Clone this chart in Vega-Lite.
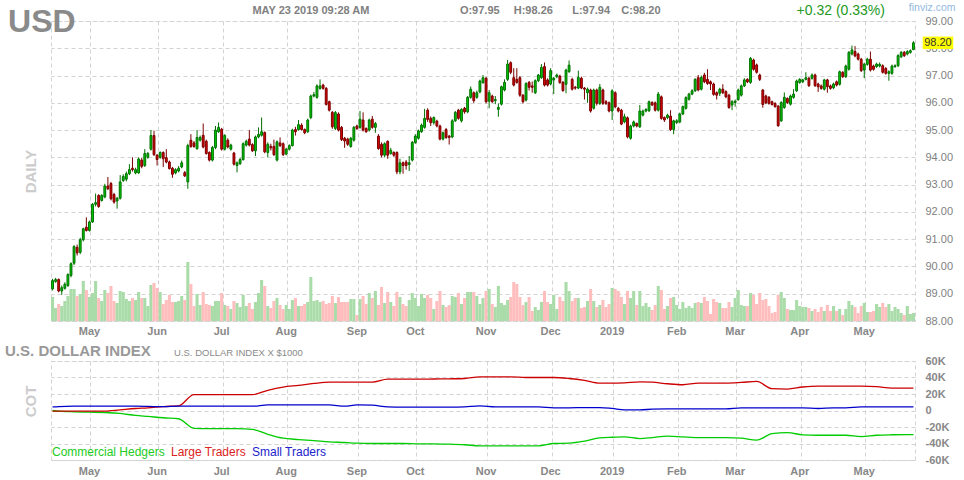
{
"$schema": "https://vega.github.io/schema/vega-lite/v6.json",
"background": "white",
"padding": {"left": 4, "top": 2, "right": 4, "bottom": 4},
"config": {
  "font": "Liberation Sans",
  "view": {"stroke": "#d3d3d3", "strokeDash": [4, 3]}
},
"datasets": {
"candles": [
{"d":"2018-04-13","o":89.18,"h":89.55,"l":89.12,"c":89.48,"v":24},
{"d":"2018-04-16","o":89.45,"h":89.58,"l":89.40,"c":89.52,"v":13},
{"d":"2018-04-17","o":89.52,"h":89.56,"l":89.05,"c":89.10,"v":17},
{"d":"2018-04-18","o":89.10,"h":89.30,"l":88.96,"c":89.22,"v":15},
{"d":"2018-04-19","o":89.20,"h":89.42,"l":89.15,"c":89.35,"v":20},
{"d":"2018-04-20","o":89.30,"h":89.75,"l":89.25,"c":89.70,"v":25},
{"d":"2018-04-23","o":89.67,"h":90.15,"l":89.60,"c":90.10,"v":32},
{"d":"2018-04-24","o":90.12,"h":90.78,"l":90.05,"c":90.73,"v":32},
{"d":"2018-04-25","o":90.70,"h":90.80,"l":90.40,"c":90.50,"v":25},
{"d":"2018-04-26","o":90.52,"h":91.05,"l":90.45,"c":90.98,"v":27},
{"d":"2018-04-27","o":90.98,"h":91.42,"l":90.92,"c":91.38,"v":40},
{"d":"2018-04-30","o":91.44,"h":91.80,"l":91.28,"c":91.32,"v":31},
{"d":"2018-05-01","o":91.32,"h":91.68,"l":91.28,"c":91.63,"v":24},
{"d":"2018-05-02","o":91.63,"h":92.32,"l":91.60,"c":92.28,"v":28},
{"d":"2018-05-03","o":92.28,"h":92.67,"l":92.20,"c":92.34,"v":40},
{"d":"2018-05-04","o":92.60,"h":92.65,"l":92.15,"c":92.20,"v":23},
{"d":"2018-05-07","o":92.42,"h":92.65,"l":92.38,"c":92.60,"v":20},
{"d":"2018-05-08","o":92.55,"h":93.03,"l":92.50,"c":92.95,"v":31},
{"d":"2018-05-09","o":92.95,"h":93.28,"l":92.80,"c":92.85,"v":28},
{"d":"2018-05-10","o":93.04,"h":93.10,"l":92.42,"c":92.48,"v":35},
{"d":"2018-05-11","o":92.64,"h":92.70,"l":92.30,"c":92.36,"v":20},
{"d":"2018-05-14","o":92.40,"h":92.55,"l":92.12,"c":92.50,"v":18},
{"d":"2018-05-15","o":92.50,"h":93.35,"l":92.45,"c":93.10,"v":30},
{"d":"2018-05-16","o":93.15,"h":93.38,"l":93.10,"c":93.30,"v":29},
{"d":"2018-05-17","o":93.20,"h":93.48,"l":93.12,"c":93.40,"v":22},
{"d":"2018-05-18","o":93.40,"h":93.75,"l":93.35,"c":93.55,"v":20},
{"d":"2018-05-21","o":93.60,"h":94.00,"l":93.48,"c":93.55,"v":23},
{"d":"2018-05-22","o":93.43,"h":93.62,"l":93.38,"c":93.55,"v":21},
{"d":"2018-05-23","o":93.43,"h":94.00,"l":93.40,"c":93.94,"v":29},
{"d":"2018-05-24","o":93.90,"h":93.98,"l":93.60,"c":93.67,"v":23},
{"d":"2018-05-25","o":93.70,"h":94.30,"l":93.65,"c":94.14,"v":23},
{"d":"2018-05-29","o":94.00,"h":94.20,"l":93.95,"c":94.14,"v":15},
{"d":"2018-05-30","o":94.30,"h":95.00,"l":94.25,"c":94.80,"v":36},
{"d":"2018-05-31","o":94.80,"h":94.98,"l":94.05,"c":94.10,"v":38},
{"d":"2018-06-01","o":94.08,"h":94.12,"l":93.70,"c":93.92,"v":33},
{"d":"2018-06-04","o":94.00,"h":94.22,"l":93.95,"c":94.18,"v":29},
{"d":"2018-06-05","o":94.18,"h":94.22,"l":93.65,"c":93.95,"v":17},
{"d":"2018-06-06","o":93.99,"h":94.30,"l":93.78,"c":93.83,"v":21},
{"d":"2018-06-07","o":93.83,"h":93.88,"l":93.55,"c":93.59,"v":26},
{"d":"2018-06-08","o":93.60,"h":93.65,"l":93.25,"c":93.38,"v":19},
{"d":"2018-06-11","o":93.43,"h":93.60,"l":93.38,"c":93.55,"v":19},
{"d":"2018-06-12","o":93.50,"h":93.68,"l":93.45,"c":93.60,"v":20},
{"d":"2018-06-13","o":93.65,"h":93.88,"l":93.60,"c":93.80,"v":25},
{"d":"2018-06-14","o":93.44,"h":93.50,"l":93.28,"c":93.32,"v":21},
{"d":"2018-06-15","o":93.10,"h":94.50,"l":92.85,"c":94.43,"v":59},
{"d":"2018-06-18","o":94.63,"h":94.85,"l":94.35,"c":94.40,"v":37},
{"d":"2018-06-19","o":94.53,"h":94.60,"l":94.35,"c":94.40,"v":15},
{"d":"2018-06-20","o":94.32,"h":95.00,"l":94.28,"c":94.73,"v":27},
{"d":"2018-06-21","o":94.63,"h":94.80,"l":94.58,"c":94.73,"v":16},
{"d":"2018-06-22","o":94.81,"h":95.24,"l":94.33,"c":94.38,"v":29},
{"d":"2018-06-25","o":94.59,"h":94.65,"l":94.10,"c":94.14,"v":17},
{"d":"2018-06-26","o":94.18,"h":94.22,"l":93.85,"c":93.90,"v":16},
{"d":"2018-06-27","o":93.90,"h":94.42,"l":93.85,"c":94.36,"v":15},
{"d":"2018-06-28","o":94.36,"h":95.15,"l":94.30,"c":95.00,"v":20},
{"d":"2018-06-29","o":94.94,"h":95.28,"l":94.90,"c":95.10,"v":20},
{"d":"2018-07-02","o":95.03,"h":95.08,"l":94.25,"c":94.30,"v":28},
{"d":"2018-07-03","o":94.30,"h":94.85,"l":94.25,"c":94.80,"v":16},
{"d":"2018-07-05","o":94.63,"h":94.70,"l":94.33,"c":94.38,"v":15},
{"d":"2018-07-06","o":94.30,"h":94.50,"l":94.25,"c":94.45,"v":12},
{"d":"2018-07-09","o":94.16,"h":94.20,"l":93.70,"c":93.75,"v":20},
{"d":"2018-07-10","o":93.70,"h":93.85,"l":93.45,"c":93.80,"v":18},
{"d":"2018-07-11","o":93.77,"h":93.98,"l":93.72,"c":93.92,"v":14},
{"d":"2018-07-12","o":93.92,"h":94.55,"l":93.88,"c":94.50,"v":26},
{"d":"2018-07-13","o":94.45,"h":94.65,"l":94.40,"c":94.59,"v":15},
{"d":"2018-07-16","o":94.67,"h":95.00,"l":94.40,"c":94.45,"v":18},
{"d":"2018-07-17","o":94.47,"h":94.52,"l":94.20,"c":94.24,"v":12},
{"d":"2018-07-18","o":94.24,"h":94.80,"l":94.05,"c":94.75,"v":19},
{"d":"2018-07-19","o":94.75,"h":95.10,"l":94.70,"c":94.84,"v":28},
{"d":"2018-07-20","o":94.81,"h":95.46,"l":94.76,"c":94.94,"v":41},
{"d":"2018-07-23","o":94.91,"h":94.95,"l":94.15,"c":94.20,"v":35},
{"d":"2018-07-24","o":94.18,"h":94.55,"l":94.00,"c":94.48,"v":15},
{"d":"2018-07-25","o":94.40,"h":94.50,"l":94.25,"c":94.35,"v":13},
{"d":"2018-07-26","o":94.40,"h":94.65,"l":94.05,"c":94.10,"v":20},
{"d":"2018-07-27","o":93.90,"h":94.62,"l":93.85,"c":94.57,"v":23},
{"d":"2018-07-30","o":94.53,"h":94.73,"l":94.38,"c":94.43,"v":16},
{"d":"2018-07-31","o":94.50,"h":94.55,"l":94.05,"c":94.10,"v":12},
{"d":"2018-08-01","o":94.12,"h":94.35,"l":94.08,"c":94.30,"v":16},
{"d":"2018-08-02","o":94.30,"h":94.48,"l":94.25,"c":94.43,"v":12},
{"d":"2018-08-03","o":94.43,"h":95.05,"l":94.40,"c":95.00,"v":21},
{"d":"2018-08-06","o":95.02,"h":95.12,"l":94.80,"c":94.94,"v":23},
{"d":"2018-08-07","o":95.02,"h":95.37,"l":94.98,"c":95.20,"v":15},
{"d":"2018-08-08","o":95.18,"h":95.25,"l":94.98,"c":95.02,"v":15},
{"d":"2018-08-09","o":95.02,"h":95.06,"l":94.85,"c":94.90,"v":17},
{"d":"2018-08-10","o":94.94,"h":95.42,"l":94.90,"c":95.37,"v":19},
{"d":"2018-08-13","o":95.46,"h":96.30,"l":95.40,"c":96.25,"v":44},
{"d":"2018-08-14","o":96.25,"h":96.40,"l":96.20,"c":96.30,"v":20},
{"d":"2018-08-15","o":96.20,"h":96.68,"l":96.15,"c":96.62,"v":21},
{"d":"2018-08-16","o":96.53,"h":96.86,"l":96.48,"c":96.62,"v":19},
{"d":"2018-08-17","o":96.65,"h":96.70,"l":96.48,"c":96.53,"v":20},
{"d":"2018-08-20","o":96.53,"h":96.58,"l":95.90,"c":95.94,"v":17},
{"d":"2018-08-21","o":96.04,"h":96.08,"l":95.68,"c":95.73,"v":18},
{"d":"2018-08-22","o":95.65,"h":95.70,"l":95.05,"c":95.12,"v":25},
{"d":"2018-08-23","o":95.06,"h":95.70,"l":95.00,"c":95.64,"v":18},
{"d":"2018-08-24","o":95.59,"h":95.65,"l":94.95,"c":95.00,"v":24},
{"d":"2018-08-27","o":95.10,"h":95.15,"l":94.60,"c":94.65,"v":19},
{"d":"2018-08-28","o":94.70,"h":94.75,"l":94.35,"c":94.60,"v":19},
{"d":"2018-08-29","o":94.67,"h":94.72,"l":94.42,"c":94.48,"v":19},
{"d":"2018-08-30","o":94.40,"h":94.75,"l":94.35,"c":94.70,"v":22},
{"d":"2018-08-31","o":94.63,"h":95.15,"l":94.58,"c":95.10,"v":22},
{"d":"2018-09-04","o":95.15,"h":95.20,"l":95.00,"c":95.06,"v":6},
{"d":"2018-09-05","o":95.10,"h":95.70,"l":95.05,"c":95.40,"v":22},
{"d":"2018-09-06","o":95.37,"h":95.65,"l":94.95,"c":95.00,"v":25},
{"d":"2018-09-07","o":95.06,"h":95.10,"l":94.90,"c":94.94,"v":17},
{"d":"2018-09-10","o":95.00,"h":95.42,"l":94.95,"c":95.37,"v":28},
{"d":"2018-09-11","o":95.40,"h":95.52,"l":95.05,"c":95.10,"v":23},
{"d":"2018-09-12","o":95.10,"h":95.30,"l":94.90,"c":95.24,"v":30},
{"d":"2018-09-13","o":94.78,"h":94.85,"l":94.28,"c":94.32,"v":16},
{"d":"2018-09-14","o":94.48,"h":94.55,"l":94.00,"c":94.08,"v":34},
{"d":"2018-09-17","o":94.08,"h":94.55,"l":94.00,"c":94.50,"v":18},
{"d":"2018-09-18","o":94.59,"h":94.62,"l":93.95,"c":94.08,"v":29},
{"d":"2018-09-19","o":94.14,"h":94.35,"l":94.10,"c":94.26,"v":19},
{"d":"2018-09-20","o":94.18,"h":94.22,"l":94.02,"c":94.08,"v":15},
{"d":"2018-09-21","o":94.18,"h":94.22,"l":93.38,"c":93.47,"v":29},
{"d":"2018-09-24","o":93.47,"h":93.95,"l":93.38,"c":93.80,"v":24},
{"d":"2018-09-25","o":93.80,"h":93.85,"l":93.40,"c":93.70,"v":17},
{"d":"2018-09-26","o":93.83,"h":93.90,"l":93.55,"c":93.70,"v":15},
{"d":"2018-09-27","o":93.74,"h":94.05,"l":93.50,"c":93.80,"v":21},
{"d":"2018-09-28","o":93.90,"h":94.60,"l":93.85,"c":94.55,"v":28},
{"d":"2018-10-01","o":94.54,"h":94.85,"l":94.50,"c":94.78,"v":23},
{"d":"2018-10-02","o":94.70,"h":95.02,"l":94.65,"c":94.97,"v":15},
{"d":"2018-10-03","o":94.94,"h":95.24,"l":94.90,"c":95.18,"v":27},
{"d":"2018-10-04","o":95.10,"h":95.78,"l":95.05,"c":95.43,"v":23},
{"d":"2018-10-05","o":95.73,"h":95.80,"l":95.30,"c":95.39,"v":26},
{"d":"2018-10-08","o":95.43,"h":95.50,"l":95.15,"c":95.27,"v":23},
{"d":"2018-10-09","o":95.27,"h":95.50,"l":95.20,"c":95.46,"v":12},
{"d":"2018-10-10","o":95.33,"h":95.38,"l":95.10,"c":95.15,"v":20},
{"d":"2018-10-11","o":95.15,"h":95.20,"l":94.62,"c":94.67,"v":30},
{"d":"2018-10-12","o":94.67,"h":94.95,"l":94.62,"c":94.90,"v":16},
{"d":"2018-10-15","o":95.02,"h":95.08,"l":94.68,"c":94.73,"v":14},
{"d":"2018-10-16","o":94.78,"h":94.82,"l":94.47,"c":94.73,"v":16},
{"d":"2018-10-17","o":94.75,"h":95.40,"l":94.70,"c":95.34,"v":25},
{"d":"2018-10-18","o":95.34,"h":95.70,"l":95.30,"c":95.65,"v":24},
{"d":"2018-10-19","o":95.73,"h":95.78,"l":95.38,"c":95.43,"v":28},
{"d":"2018-10-22","o":95.34,"h":95.80,"l":95.28,"c":95.76,"v":17},
{"d":"2018-10-23","o":95.80,"h":95.85,"l":95.60,"c":95.67,"v":23},
{"d":"2018-10-24","o":95.67,"h":96.25,"l":95.62,"c":96.20,"v":29},
{"d":"2018-10-25","o":96.20,"h":96.60,"l":96.15,"c":96.50,"v":29},
{"d":"2018-10-26","o":96.37,"h":96.42,"l":96.00,"c":96.08,"v":29},
{"d":"2018-10-29","o":96.20,"h":96.45,"l":96.15,"c":96.37,"v":25},
{"d":"2018-10-30","o":96.40,"h":96.85,"l":96.35,"c":96.80,"v":17},
{"d":"2018-10-31","o":96.74,"h":97.02,"l":96.70,"c":96.92,"v":23},
{"d":"2018-11-01","o":96.90,"h":96.95,"l":95.98,"c":96.04,"v":30},
{"d":"2018-11-02","o":96.06,"h":96.47,"l":95.80,"c":96.37,"v":32},
{"d":"2018-11-05","o":96.25,"h":96.30,"l":96.00,"c":96.04,"v":17},
{"d":"2018-11-06","o":96.08,"h":96.25,"l":95.95,"c":96.12,"v":14},
{"d":"2018-11-07","o":95.76,"h":95.98,"l":95.49,"c":95.83,"v":35},
{"d":"2018-11-08","o":95.95,"h":96.63,"l":95.90,"c":96.59,"v":18},
{"d":"2018-11-09","o":96.47,"h":96.86,"l":96.42,"c":96.75,"v":16},
{"d":"2018-11-12","o":96.86,"h":97.57,"l":96.80,"c":97.42,"v":21},
{"d":"2018-11-13","o":97.47,"h":97.52,"l":97.05,"c":97.12,"v":24},
{"d":"2018-11-14","o":96.92,"h":97.27,"l":96.60,"c":96.65,"v":39},
{"d":"2018-11-15","o":96.86,"h":97.27,"l":96.70,"c":96.75,"v":37},
{"d":"2018-11-16","o":96.92,"h":96.98,"l":96.22,"c":96.28,"v":24},
{"d":"2018-11-19","o":96.28,"h":96.32,"l":95.98,"c":96.04,"v":16},
{"d":"2018-11-20","o":96.10,"h":96.75,"l":96.05,"c":96.71,"v":19},
{"d":"2018-11-21","o":96.75,"h":96.80,"l":96.45,"c":96.57,"v":24},
{"d":"2018-11-23","o":96.62,"h":96.78,"l":96.37,"c":96.57,"v":10},
{"d":"2018-11-26","o":96.37,"h":96.86,"l":96.32,"c":96.81,"v":14},
{"d":"2018-11-27","o":96.81,"h":97.06,"l":96.76,"c":97.02,"v":11},
{"d":"2018-11-28","o":96.92,"h":97.42,"l":96.88,"c":97.30,"v":19},
{"d":"2018-11-29","o":97.33,"h":97.48,"l":96.60,"c":96.65,"v":30},
{"d":"2018-11-30","o":96.84,"h":96.90,"l":96.60,"c":96.65,"v":19},
{"d":"2018-12-03","o":96.69,"h":97.27,"l":96.64,"c":97.18,"v":17},
{"d":"2018-12-04","o":96.84,"h":96.95,"l":96.32,"c":96.90,"v":26},
{"d":"2018-12-05","o":96.96,"h":97.07,"l":96.90,"c":97.02,"v":12},
{"d":"2018-12-06","o":96.98,"h":97.03,"l":96.70,"c":96.74,"v":24},
{"d":"2018-12-07","o":96.75,"h":96.80,"l":96.40,"c":96.45,"v":20},
{"d":"2018-12-10","o":96.68,"h":97.25,"l":96.35,"c":97.20,"v":39},
{"d":"2018-12-11","o":97.14,"h":97.55,"l":97.10,"c":97.38,"v":30},
{"d":"2018-12-12","o":96.86,"h":96.92,"l":96.45,"c":96.50,"v":20},
{"d":"2018-12-13","o":96.57,"h":96.62,"l":96.48,"c":96.54,"v":23},
{"d":"2018-12-14","o":96.54,"h":97.18,"l":96.50,"c":96.93,"v":23},
{"d":"2018-12-17","o":96.90,"h":96.96,"l":96.50,"c":96.54,"v":13},
{"d":"2018-12-18","o":96.54,"h":96.58,"l":96.12,"c":96.50,"v":14},
{"d":"2018-12-19","o":96.37,"h":96.56,"l":96.00,"c":96.50,"v":20},
{"d":"2018-12-20","o":96.47,"h":96.52,"l":95.64,"c":95.70,"v":32},
{"d":"2018-12-21","o":95.80,"h":96.52,"l":95.75,"c":96.47,"v":20},
{"d":"2018-12-24","o":96.47,"h":96.52,"l":95.90,"c":95.98,"v":14},
{"d":"2018-12-26","o":95.98,"h":96.69,"l":95.92,"c":96.57,"v":16},
{"d":"2018-12-27","o":96.47,"h":96.52,"l":95.92,"c":95.98,"v":21},
{"d":"2018-12-28","o":96.04,"h":96.10,"l":95.92,"c":95.98,"v":14},
{"d":"2018-12-31","o":96.00,"h":96.05,"l":95.65,"c":95.70,"v":17},
{"d":"2019-01-02","o":95.70,"h":96.50,"l":95.37,"c":96.44,"v":33},
{"d":"2019-01-03","o":96.37,"h":96.42,"l":95.80,"c":95.85,"v":32},
{"d":"2019-01-04","o":95.80,"h":95.85,"l":95.65,"c":95.70,"v":30},
{"d":"2019-01-07","o":95.73,"h":95.78,"l":95.18,"c":95.22,"v":24},
{"d":"2019-01-08","o":95.30,"h":95.60,"l":95.25,"c":95.49,"v":17},
{"d":"2019-01-09","o":95.45,"h":95.50,"l":94.70,"c":94.75,"v":30},
{"d":"2019-01-10","o":94.70,"h":95.20,"l":94.65,"c":95.15,"v":23},
{"d":"2019-01-11","o":95.15,"h":95.35,"l":95.10,"c":95.30,"v":30},
{"d":"2019-01-14","o":95.24,"h":95.28,"l":95.10,"c":95.15,"v":16},
{"d":"2019-01-15","o":95.12,"h":95.92,"l":95.08,"c":95.70,"v":30},
{"d":"2019-01-16","o":95.55,"h":95.75,"l":95.50,"c":95.70,"v":15},
{"d":"2019-01-17","o":95.70,"h":95.80,"l":95.65,"c":95.76,"v":18},
{"d":"2019-01-18","o":95.71,"h":96.08,"l":95.66,"c":96.04,"v":14},
{"d":"2019-01-22","o":96.01,"h":96.06,"l":95.88,"c":95.92,"v":11},
{"d":"2019-01-23","o":96.00,"h":96.05,"l":95.68,"c":95.73,"v":16},
{"d":"2019-01-24","o":95.73,"h":96.40,"l":95.68,"c":96.32,"v":35},
{"d":"2019-01-25","o":96.22,"h":96.27,"l":95.38,"c":95.43,"v":31},
{"d":"2019-01-28","o":95.46,"h":95.50,"l":95.30,"c":95.37,"v":12},
{"d":"2019-01-29","o":95.46,"h":95.60,"l":95.40,"c":95.55,"v":15},
{"d":"2019-01-30","o":95.51,"h":95.73,"l":94.97,"c":95.02,"v":23},
{"d":"2019-01-31","o":95.02,"h":95.38,"l":94.85,"c":95.34,"v":24},
{"d":"2019-02-01","o":95.28,"h":95.40,"l":95.22,"c":95.34,"v":16},
{"d":"2019-02-04","o":95.30,"h":95.64,"l":95.25,"c":95.59,"v":12},
{"d":"2019-02-05","o":95.59,"h":95.90,"l":95.55,"c":95.86,"v":19},
{"d":"2019-02-06","o":95.80,"h":96.24,"l":95.75,"c":96.19,"v":13},
{"d":"2019-02-07","o":96.13,"h":96.37,"l":96.08,"c":96.32,"v":15},
{"d":"2019-02-08","o":96.32,"h":96.50,"l":96.28,"c":96.44,"v":13},
{"d":"2019-02-11","o":96.44,"h":96.90,"l":96.40,"c":96.86,"v":18},
{"d":"2019-02-12","o":96.92,"h":97.02,"l":96.42,"c":96.47,"v":19},
{"d":"2019-02-13","o":96.50,"h":97.00,"l":96.45,"c":96.93,"v":18},
{"d":"2019-02-14","o":97.02,"h":97.10,"l":96.72,"c":96.77,"v":24},
{"d":"2019-02-15","o":96.86,"h":97.23,"l":96.66,"c":96.71,"v":20},
{"d":"2019-02-19","o":96.77,"h":96.82,"l":96.47,"c":96.69,"v":7},
{"d":"2019-02-20","o":96.69,"h":96.74,"l":96.26,"c":96.31,"v":22},
{"d":"2019-02-21","o":96.37,"h":96.42,"l":96.12,"c":96.28,"v":19},
{"d":"2019-02-22","o":96.35,"h":96.55,"l":96.25,"c":96.50,"v":18},
{"d":"2019-02-25","o":96.50,"h":96.68,"l":96.32,"c":96.37,"v":13},
{"d":"2019-02-26","o":96.41,"h":96.46,"l":96.17,"c":96.22,"v":13},
{"d":"2019-02-27","o":96.28,"h":96.33,"l":95.78,"c":95.83,"v":19},
{"d":"2019-02-28","o":95.92,"h":96.10,"l":95.73,"c":96.04,"v":14},
{"d":"2019-03-01","o":96.01,"h":96.12,"l":95.86,"c":96.06,"v":23},
{"d":"2019-03-04","o":96.12,"h":96.52,"l":96.07,"c":96.47,"v":31},
{"d":"2019-03-05","o":96.28,"h":96.67,"l":96.23,"c":96.62,"v":16},
{"d":"2019-03-06","o":96.62,"h":96.90,"l":96.58,"c":96.84,"v":15},
{"d":"2019-03-07","o":96.86,"h":96.90,"l":96.72,"c":96.77,"v":15},
{"d":"2019-03-08","o":96.75,"h":97.68,"l":96.70,"c":97.63,"v":28},
{"d":"2019-03-11","o":97.57,"h":97.62,"l":97.18,"c":97.23,"v":26},
{"d":"2019-03-12","o":97.39,"h":97.44,"l":97.07,"c":97.12,"v":17},
{"d":"2019-03-13","o":97.02,"h":97.07,"l":96.80,"c":96.86,"v":28},
{"d":"2019-03-14","o":96.47,"h":96.50,"l":95.82,"c":95.94,"v":21},
{"d":"2019-03-15","o":96.25,"h":96.30,"l":95.95,"c":96.00,"v":22},
{"d":"2019-03-18","o":96.20,"h":96.25,"l":95.93,"c":95.98,"v":15},
{"d":"2019-03-19","o":96.04,"h":96.08,"l":95.90,"c":95.94,"v":8},
{"d":"2019-03-20","o":95.98,"h":96.02,"l":95.82,"c":95.86,"v":9},
{"d":"2019-03-21","o":95.88,"h":95.92,"l":95.12,"c":95.16,"v":26},
{"d":"2019-03-22","o":95.34,"h":96.06,"l":95.30,"c":96.01,"v":29},
{"d":"2019-03-25","o":95.83,"h":96.38,"l":95.78,"c":96.20,"v":23},
{"d":"2019-03-26","o":96.16,"h":96.20,"l":95.96,"c":96.01,"v":12},
{"d":"2019-03-27","o":95.95,"h":96.30,"l":95.90,"c":96.25,"v":11},
{"d":"2019-03-28","o":96.20,"h":96.50,"l":96.15,"c":96.32,"v":11},
{"d":"2019-03-29","o":96.44,"h":96.85,"l":96.40,"c":96.80,"v":21},
{"d":"2019-04-01","o":96.74,"h":96.90,"l":96.70,"c":96.86,"v":15},
{"d":"2019-04-02","o":96.77,"h":96.88,"l":96.72,"c":96.84,"v":14},
{"d":"2019-04-03","o":96.86,"h":97.12,"l":96.82,"c":96.92,"v":14},
{"d":"2019-04-04","o":96.90,"h":96.95,"l":96.58,"c":96.63,"v":13},
{"d":"2019-04-05","o":96.90,"h":97.08,"l":96.85,"c":97.02,"v":10},
{"d":"2019-04-08","o":97.02,"h":97.07,"l":96.58,"c":96.63,"v":12},
{"d":"2019-04-09","o":96.69,"h":96.74,"l":96.40,"c":96.59,"v":9},
{"d":"2019-04-10","o":96.62,"h":96.67,"l":96.48,"c":96.53,"v":14},
{"d":"2019-04-11","o":96.50,"h":96.88,"l":96.45,"c":96.84,"v":10},
{"d":"2019-04-12","o":96.84,"h":96.88,"l":96.37,"c":96.59,"v":16},
{"d":"2019-04-15","o":96.62,"h":96.67,"l":96.48,"c":96.53,"v":10},
{"d":"2019-04-16","o":96.55,"h":96.74,"l":96.50,"c":96.69,"v":15},
{"d":"2019-04-17","o":96.77,"h":96.82,"l":96.60,"c":96.65,"v":10},
{"d":"2019-04-18","o":96.68,"h":97.18,"l":96.63,"c":97.14,"v":12},
{"d":"2019-04-22","o":97.12,"h":97.16,"l":96.91,"c":96.96,"v":6},
{"d":"2019-04-23","o":96.96,"h":97.40,"l":96.91,"c":97.35,"v":12},
{"d":"2019-04-24","o":97.23,"h":97.90,"l":97.18,"c":97.85,"v":20},
{"d":"2019-04-25","o":97.79,"h":98.10,"l":97.74,"c":97.94,"v":16},
{"d":"2019-04-26","o":97.88,"h":98.08,"l":97.67,"c":97.72,"v":14},
{"d":"2019-04-29","o":97.79,"h":97.84,"l":97.55,"c":97.60,"v":8},
{"d":"2019-04-30","o":97.60,"h":97.65,"l":97.13,"c":97.18,"v":15},
{"d":"2019-05-01","o":97.20,"h":97.47,"l":96.90,"c":97.42,"v":18},
{"d":"2019-05-02","o":97.41,"h":97.65,"l":97.36,"c":97.60,"v":9},
{"d":"2019-05-03","o":97.60,"h":97.88,"l":97.15,"c":97.20,"v":9},
{"d":"2019-05-06","o":97.35,"h":97.40,"l":97.18,"c":97.23,"v":10},
{"d":"2019-05-07","o":97.33,"h":97.47,"l":97.28,"c":97.42,"v":17},
{"d":"2019-05-08","o":97.35,"h":97.48,"l":97.30,"c":97.41,"v":14},
{"d":"2019-05-09","o":97.36,"h":97.41,"l":97.07,"c":97.12,"v":18},
{"d":"2019-05-10","o":97.26,"h":97.31,"l":97.03,"c":97.08,"v":14},
{"d":"2019-05-13","o":97.08,"h":97.19,"l":96.81,"c":97.14,"v":17},
{"d":"2019-05-14","o":97.08,"h":97.40,"l":97.03,"c":97.35,"v":10},
{"d":"2019-05-15","o":97.33,"h":97.41,"l":97.28,"c":97.36,"v":14},
{"d":"2019-05-16","o":97.36,"h":97.78,"l":97.31,"c":97.73,"v":12},
{"d":"2019-05-17","o":97.69,"h":97.90,"l":97.64,"c":97.85,"v":8},
{"d":"2019-05-20","o":97.85,"h":97.90,"l":97.68,"c":97.73,"v":6},
{"d":"2019-05-21","o":97.79,"h":97.93,"l":97.74,"c":97.88,"v":15},
{"d":"2019-05-22","o":97.85,"h":97.96,"l":97.80,"c":97.91,"v":7},
{"d":"2019-05-23","o":97.95,"h":98.26,"l":97.94,"c":98.20,"v":8}
],
"cot": [
{"d":"2018-04-13","Commercial Hedgers":0,"Large Traders":-800,"Small Traders":4400},
{"d":"2018-04-17","Commercial Hedgers":-800,"Large Traders":-800,"Small Traders":4800},
{"d":"2018-04-24","Commercial Hedgers":-1600,"Large Traders":-800,"Small Traders":5200},
{"d":"2018-05-01","Commercial Hedgers":-2000,"Large Traders":-800,"Small Traders":5200},
{"d":"2018-05-08","Commercial Hedgers":-2400,"Large Traders":-800,"Small Traders":5200},
{"d":"2018-05-15","Commercial Hedgers":-3600,"Large Traders":800,"Small Traders":5200},
{"d":"2018-05-22","Commercial Hedgers":-6000,"Large Traders":2400,"Small Traders":5200},
{"d":"2018-05-29","Commercial Hedgers":-7200,"Large Traders":3200,"Small Traders":5000},
{"d":"2018-06-05","Commercial Hedgers":-8800,"Large Traders":4800,"Small Traders":4600},
{"d":"2018-06-12","Commercial Hedgers":-10000,"Large Traders":5600,"Small Traders":5200},
{"d":"2018-06-19","Commercial Hedgers":-21600,"Large Traders":19200,"Small Traders":5200},
{"d":"2018-06-26","Commercial Hedgers":-22000,"Large Traders":19200,"Small Traders":5200},
{"d":"2018-07-03","Commercial Hedgers":-22000,"Large Traders":19200,"Small Traders":5200},
{"d":"2018-07-10","Commercial Hedgers":-22000,"Large Traders":19200,"Small Traders":5200},
{"d":"2018-07-17","Commercial Hedgers":-22800,"Large Traders":19200,"Small Traders":5200},
{"d":"2018-07-24","Commercial Hedgers":-28800,"Large Traders":24500,"Small Traders":6800},
{"d":"2018-07-31","Commercial Hedgers":-33600,"Large Traders":28400,"Small Traders":6800},
{"d":"2018-08-07","Commercial Hedgers":-35200,"Large Traders":30500,"Small Traders":6800},
{"d":"2018-08-14","Commercial Hedgers":-36500,"Large Traders":32800,"Small Traders":6800},
{"d":"2018-08-21","Commercial Hedgers":-38000,"Large Traders":34400,"Small Traders":6800},
{"d":"2018-08-28","Commercial Hedgers":-38800,"Large Traders":34400,"Small Traders":5200},
{"d":"2018-09-04","Commercial Hedgers":-39600,"Large Traders":34400,"Small Traders":6800},
{"d":"2018-09-11","Commercial Hedgers":-40000,"Large Traders":34400,"Small Traders":6400},
{"d":"2018-09-18","Commercial Hedgers":-40000,"Large Traders":38000,"Small Traders":4400},
{"d":"2018-09-25","Commercial Hedgers":-40000,"Large Traders":38000,"Small Traders":4000},
{"d":"2018-10-02","Commercial Hedgers":-40400,"Large Traders":38000,"Small Traders":4000},
{"d":"2018-10-09","Commercial Hedgers":-40400,"Large Traders":38200,"Small Traders":4000},
{"d":"2018-10-16","Commercial Hedgers":-40800,"Large Traders":38400,"Small Traders":4000},
{"d":"2018-10-23","Commercial Hedgers":-41500,"Large Traders":38800,"Small Traders":4400},
{"d":"2018-10-30","Commercial Hedgers":-42800,"Large Traders":40800,"Small Traders":5600},
{"d":"2018-11-06","Commercial Hedgers":-42800,"Large Traders":40800,"Small Traders":4400},
{"d":"2018-11-13","Commercial Hedgers":-42800,"Large Traders":40800,"Small Traders":4400},
{"d":"2018-11-20","Commercial Hedgers":-42800,"Large Traders":40000,"Small Traders":4400},
{"d":"2018-11-27","Commercial Hedgers":-42800,"Large Traders":40000,"Small Traders":4400},
{"d":"2018-12-04","Commercial Hedgers":-40000,"Large Traders":40000,"Small Traders":3200},
{"d":"2018-12-11","Commercial Hedgers":-39600,"Large Traders":38800,"Small Traders":3200},
{"d":"2018-12-18","Commercial Hedgers":-37200,"Large Traders":36500,"Small Traders":3600},
{"d":"2018-12-26","Commercial Hedgers":-33200,"Large Traders":33200,"Small Traders":3600},
{"d":"2019-01-02","Commercial Hedgers":-32400,"Large Traders":33200,"Small Traders":2500},
{"d":"2019-01-08","Commercial Hedgers":-32000,"Large Traders":33600,"Small Traders":800},
{"d":"2019-01-15","Commercial Hedgers":-34000,"Large Traders":34800,"Small Traders":800},
{"d":"2019-01-22","Commercial Hedgers":-32800,"Large Traders":34400,"Small Traders":1600},
{"d":"2019-01-29","Commercial Hedgers":-31000,"Large Traders":32400,"Small Traders":2000},
{"d":"2019-02-05","Commercial Hedgers":-32000,"Large Traders":31200,"Small Traders":2000},
{"d":"2019-02-12","Commercial Hedgers":-32800,"Large Traders":33200,"Small Traders":2000},
{"d":"2019-02-19","Commercial Hedgers":-32800,"Large Traders":33200,"Small Traders":2000},
{"d":"2019-02-26","Commercial Hedgers":-32800,"Large Traders":33200,"Small Traders":2000},
{"d":"2019-03-05","Commercial Hedgers":-33600,"Large Traders":34000,"Small Traders":3200},
{"d":"2019-03-12","Commercial Hedgers":-36000,"Large Traders":35200,"Small Traders":3200},
{"d":"2019-03-19","Commercial Hedgers":-28000,"Large Traders":26400,"Small Traders":3200},
{"d":"2019-03-26","Commercial Hedgers":-26800,"Large Traders":26000,"Small Traders":3200},
{"d":"2019-04-02","Commercial Hedgers":-29500,"Large Traders":28500,"Small Traders":3200},
{"d":"2019-04-09","Commercial Hedgers":-30000,"Large Traders":29600,"Small Traders":2400},
{"d":"2019-04-16","Commercial Hedgers":-30000,"Large Traders":29600,"Small Traders":3200},
{"d":"2019-04-23","Commercial Hedgers":-30000,"Large Traders":29600,"Small Traders":3200},
{"d":"2019-04-30","Commercial Hedgers":-31600,"Large Traders":29600,"Small Traders":4400},
{"d":"2019-05-07","Commercial Hedgers":-30000,"Large Traders":29000,"Small Traders":4400},
{"d":"2019-05-14","Commercial Hedgers":-29400,"Large Traders":27200,"Small Traders":4400},
{"d":"2019-05-21","Commercial Hedgers":-29200,"Large Traders":27200,"Small Traders":4400},
{"d":"2019-05-23","Commercial Hedgers":-29200,"Large Traders":27200,"Small Traders":4400}
]
},
"resolve": {"scale": {"x": "shared", "color": "independent"}, "legend": {"color": "independent"}},
"bounds": "flush",
"spacing": 40,
"vconcat": [
{
  "width": 864,
  "height": 300,
  "layer": [
    {
      "data": {"name": "candles"},
      "mark": {"type": "bar", "width": {"band": 1}},
      "encoding": {
        "x": {"field": "d", "type": "ordinal", "scale": {"type": "band", "paddingInner": 0, "paddingOuter": 0},
          "axis": {"values": ["2018-05-01","2018-06-01","2018-07-02","2018-08-01","2018-09-04","2018-10-01","2018-11-01","2018-12-03","2019-01-02","2019-02-01","2019-03-01","2019-04-01","2019-05-01"],
            "labelExpr": "datum.value == '2019-01-02' ? '2019' : ['Jan','Feb','Mar','Apr','May','Jun','Jul','Aug','Sep','Oct','Nov','Dec'][toNumber(slice(datum.value,5,7))-1]",
            "bandPosition": 1, "grid": true, "gridColor": "#d3d3d3", "gridDash": [4, 3], "ticks": false, "domain": false,
            "labelPadding": 4, "labelFontSize": 11, "labelFontWeight": "bold", "labelColor": "#888888", "labelAngle": 0, "labelOverlap": false, "title": null}},
        "y": {"field": "v", "type": "quantitative", "scale": {"domain": [0, 300], "nice": false},
          "axis": {"orient": "left", "title": "DAILY", "labels": false, "ticks": false, "domain": false, "grid": false, "minExtent": 0, "maxExtent": 0, "titlePadding": 13, "titleFontSize": 15, "titleFontWeight": "bold", "titleColor": "#cccccc"}},
        "color": {"condition": {"test": "datum.c >= datum.o", "value": "#a9dca9"}, "value": "#ffbebe"}
      }
    },
    {
      "data": {"name": "candles"},
      "layer": [
        {
          "mark": {"type": "rule", "strokeWidth": 1},
          "encoding": {
            "x": {"field": "d", "type": "ordinal", "scale": {"type": "band", "paddingInner": 0, "paddingOuter": 0}},
            "y": {"field": "l", "type": "quantitative", "scale": {"domain": [88, 99], "zero": false, "nice": false},
              "axis": {"orient": "right", "values": [88,89,90,91,92,93,94,95,96,97,98,99], "format": ".2f", "grid": true, "gridColor": "#d3d3d3", "gridDash": [4, 3], "ticks": false, "domain": false, "labelPadding": 10, "labelFontSize": 11, "labelColor": "#808080", "labelOverlap": false, "labelFlush": false, "title": null}},
            "y2": {"field": "h"},
            "color": {"condition": {"test": "datum.c >= datum.o", "value": "#006f00"}, "value": "#7a0000"}
          }
        },
        {
          "mark": {"type": "bar", "width": {"band": 0.6}, "strokeWidth": 1},
          "encoding": {
            "x": {"field": "d", "type": "ordinal", "scale": {"type": "band", "paddingInner": 0, "paddingOuter": 0}},
            "y": {"field": "o", "type": "quantitative", "scale": {"domain": [88, 99], "zero": false, "nice": false},
              "axis": {"orient": "right", "values": [88,89,90,91,92,93,94,95,96,97,98,99], "format": ".2f", "grid": true, "gridColor": "#d3d3d3", "gridDash": [4, 3], "ticks": false, "domain": false, "labelPadding": 10, "labelFontSize": 11, "labelColor": "#808080", "labelOverlap": false, "labelFlush": false, "title": null}},
            "y2": {"field": "c"},
            "fill": {"condition": {"test": "datum.c >= datum.o", "value": "#00cc00"}, "value": "#dd0000"},
            "stroke": {"condition": {"test": "datum.c >= datum.o", "value": "#006f00"}, "value": "#7a0000"}
          }
        }
      ]
    },
    {
      "data": {"values": [{}]},
      "layer": [
        {
          "mark": {"type": "text", "text": "USD", "align": "left", "baseline": "alphabetic", "dx": -44.5, "fontSize": 32, "fontWeight": "bold", "color": "#8a8a8a"},
          "encoding": {
            "x": {"datum": "2018-04-13", "type": "ordinal", "scale": {"type": "band", "paddingInner": 0, "paddingOuter": 0}},
            "y": {"datum": 98.6, "type": "quantitative", "scale": {"domain": [88, 99], "zero": false, "nice": false}, "axis": null}
          }
        },
        {
          "mark": {"type": "text", "text": "MAY 23 2019 09:28 AM", "align": "left", "baseline": "middle", "fontSize": 11, "fontWeight": "bold", "color": "#808080"},
          "encoding": {
            "x": {"datum": "2018-07-17", "type": "ordinal", "scale": {"type": "band", "paddingInner": 0, "paddingOuter": 0}},
            "y": {"datum": 99.37, "type": "quantitative", "scale": {"domain": [88, 99], "zero": false, "nice": false}, "axis": null}
          }
        },
        {
          "mark": {"type": "text", "text": "O:97.95", "align": "left", "baseline": "middle", "dx": 1.5, "fontSize": 11, "fontWeight": "bold", "color": "#808080"},
          "encoding": {
            "x": {"datum": "2018-10-19", "type": "ordinal", "scale": {"type": "band", "paddingInner": 0, "paddingOuter": 0}},
            "y": {"datum": 99.37, "type": "quantitative", "scale": {"domain": [88, 99], "zero": false, "nice": false}, "axis": null}
          }
        },
        {
          "mark": {"type": "text", "text": "H:98.26", "align": "left", "baseline": "middle", "fontSize": 11, "fontWeight": "bold", "color": "#808080"},
          "encoding": {
            "x": {"datum": "2018-11-14", "type": "ordinal", "scale": {"type": "band", "paddingInner": 0, "paddingOuter": 0}},
            "y": {"datum": 99.37, "type": "quantitative", "scale": {"domain": [88, 99], "zero": false, "nice": false}, "axis": null}
          }
        },
        {
          "mark": {"type": "text", "text": "L:97.94", "align": "left", "baseline": "middle", "fontSize": 11, "fontWeight": "bold", "color": "#808080"},
          "encoding": {
            "x": {"datum": "2018-12-12", "type": "ordinal", "scale": {"type": "band", "paddingInner": 0, "paddingOuter": 0}},
            "y": {"datum": 99.37, "type": "quantitative", "scale": {"domain": [88, 99], "zero": false, "nice": false}, "axis": null}
          }
        },
        {
          "mark": {"type": "text", "text": "C:98.20", "align": "left", "baseline": "middle", "fontSize": 11, "fontWeight": "bold", "color": "#808080"},
          "encoding": {
            "x": {"datum": "2019-01-07", "type": "ordinal", "scale": {"type": "band", "paddingInner": 0, "paddingOuter": 0}},
            "y": {"datum": 99.37, "type": "quantitative", "scale": {"domain": [88, 99], "zero": false, "nice": false}, "axis": null}
          }
        },
        {
          "mark": {"type": "text", "text": "+0.32 (0.33%)", "align": "left", "baseline": "middle", "fontSize": 14, "color": "#229922"},
          "encoding": {
            "x": {"datum": "2019-03-29", "type": "ordinal", "scale": {"type": "band", "paddingInner": 0, "paddingOuter": 0}},
            "y": {"datum": 99.38, "type": "quantitative", "scale": {"domain": [88, 99], "zero": false, "nice": false}, "axis": null}
          }
        },
        {
          "mark": {"type": "text", "text": "finviz.com", "align": "left", "baseline": "middle", "dx": 1.5, "fontSize": 10.5, "color": "#92b9df"},
          "encoding": {
            "x": {"datum": "2019-05-21", "type": "ordinal", "scale": {"type": "band", "paddingInner": 0, "paddingOuter": 0}},
            "y": {"datum": 99.47, "type": "quantitative", "scale": {"domain": [88, 99], "zero": false, "nice": false}, "axis": null}
          }
        },
        {
          "mark": {"type": "point", "shape": "M-1,-0.41L1,-0.41L1,0.41L-1,0.41Z", "size": 930, "filled": true, "color": "#ffff00", "opacity": 1, "xOffset": 24.5},
          "encoding": {
            "x": {"datum": "2019-05-23", "type": "ordinal", "scale": {"type": "band", "paddingInner": 0, "paddingOuter": 0}},
            "y": {"datum": 98.2, "type": "quantitative", "scale": {"domain": [88, 99], "zero": false, "nice": false}, "axis": null}
          }
        },
        {
          "mark": {"type": "text", "text": "98.20", "align": "center", "baseline": "middle", "xOffset": 24.5, "fontSize": 11, "color": "#333333"},
          "encoding": {
            "x": {"datum": "2019-05-23", "type": "ordinal", "scale": {"type": "band", "paddingInner": 0, "paddingOuter": 0}},
            "y": {"datum": 98.2, "type": "quantitative", "scale": {"domain": [88, 99], "zero": false, "nice": false}, "axis": null}
          }
        }
      ]
    }
  ],
  "resolve": {"scale": {"y": "independent"}, "axis": {"y": "independent"}}
},
{
  "width": 864,
  "height": 99,
  "layer": [
    {
      "data": {"values": [{}]},
      "mark": {"type": "rule", "opacity": 0},
      "encoding": {
        "y": {"datum": 0.6, "type": "quantitative", "scale": {"domain": [0, 1]},
          "axis": {"orient": "left", "title": "COT", "labels": false, "ticks": false, "domain": false, "grid": false, "minExtent": 0, "maxExtent": 0, "titlePadding": 13, "titleY": 40, "titleFontSize": 15, "titleFontWeight": "bold", "titleColor": "#cccccc"}}
      }
    },
    {
      "data": {"name": "cot"},
      "transform": [{"fold": ["Commercial Hedgers", "Large Traders", "Small Traders"], "as": ["s", "val"]}],
      "mark": {"type": "line", "interpolate": "monotone", "strokeWidth": 1.3},
      "encoding": {
        "x": {"field": "d", "type": "ordinal", "scale": {"type": "band", "paddingInner": 0, "paddingOuter": 0},
          "axis": {"values": ["2018-05-01","2018-06-01","2018-07-02","2018-08-01","2018-09-04","2018-10-01","2018-11-01","2018-12-03","2019-01-02","2019-02-01","2019-03-01","2019-04-01","2019-05-01"],
            "labelExpr": "datum.value == '2019-01-02' ? '2019' : ['Jan','Feb','Mar','Apr','May','Jun','Jul','Aug','Sep','Oct','Nov','Dec'][toNumber(slice(datum.value,5,7))-1]",
            "bandPosition": 1, "grid": true, "gridColor": "#d3d3d3", "gridDash": [4, 3], "ticks": false, "domain": false,
            "labelPadding": 5, "labelFontSize": 11, "labelFontWeight": "bold", "labelColor": "#888888", "labelAngle": 0, "labelOverlap": false, "title": null}},
        "y": {"field": "val", "type": "quantitative", "scale": {"domain": [-60000, 60000], "nice": false},
          "axis": {"orient": "right", "values": [-60000,-40000,-20000,0,20000,40000,60000], "labelExpr": "datum.value == 0 ? '0' : (datum.value/1000) + 'K'", "grid": true, "gridColor": "#d3d3d3", "gridDash": [4, 3], "ticks": false, "domain": false, "labelPadding": 10, "labelFontSize": 11, "labelFontWeight": "bold", "labelColor": "#888888", "labelOverlap": false, "labelFlush": false, "title": null}},
        "color": {"field": "s", "type": "nominal",
          "scale": {"domain": ["Commercial Hedgers", "Large Traders", "Small Traders"], "range": ["#00cc00", "#cc0000", "#0000cc"]},
          "legend": {"orient": "bottom-left", "direction": "horizontal", "title": null, "symbolSize": 0, "symbolStrokeWidth": 0, "symbolOpacity": 0, "labelOffset": -13, "columnPadding": 6, "labelFontSize": 12, "offset": 2, "padding": 0,
            "labelColor": {"expr": "datum.value == 'Large Traders' ? '#dd2222' : datum.value == 'Small Traders' ? '#2222cc' : '#22cc22'"}}}
      }
    },
    {
      "data": {"values": [{}]},
      "layer": [
        {
          "mark": {"type": "text", "text": "U.S. DOLLAR INDEX", "align": "left", "baseline": "alphabetic", "dx": -47.5, "fontSize": 15, "fontWeight": "bold", "color": "#999999"},
          "encoding": {
            "x": {"datum": "2018-04-13", "type": "ordinal", "scale": {"type": "band", "paddingInner": 0, "paddingOuter": 0}},
            "y": {"datum": 65700, "type": "quantitative", "scale": {"domain": [-60000, 60000], "nice": false}, "axis": null}
          }
        },
        {
          "mark": {"type": "text", "text": "U.S. DOLLAR INDEX X $1000", "align": "left", "baseline": "alphabetic", "dx": -1.5, "fontSize": 9.5, "color": "#8a8a8a"},
          "encoding": {
            "x": {"datum": "2018-06-11", "type": "ordinal", "scale": {"type": "band", "paddingInner": 0, "paddingOuter": 0}},
            "y": {"datum": 65700, "type": "quantitative", "scale": {"domain": [-60000, 60000], "nice": false}, "axis": null}
          }
        }
      ]
    }
  ],
  "resolve": {"scale": {"y": "independent"}, "axis": {"y": "independent"}}
}
]
}
